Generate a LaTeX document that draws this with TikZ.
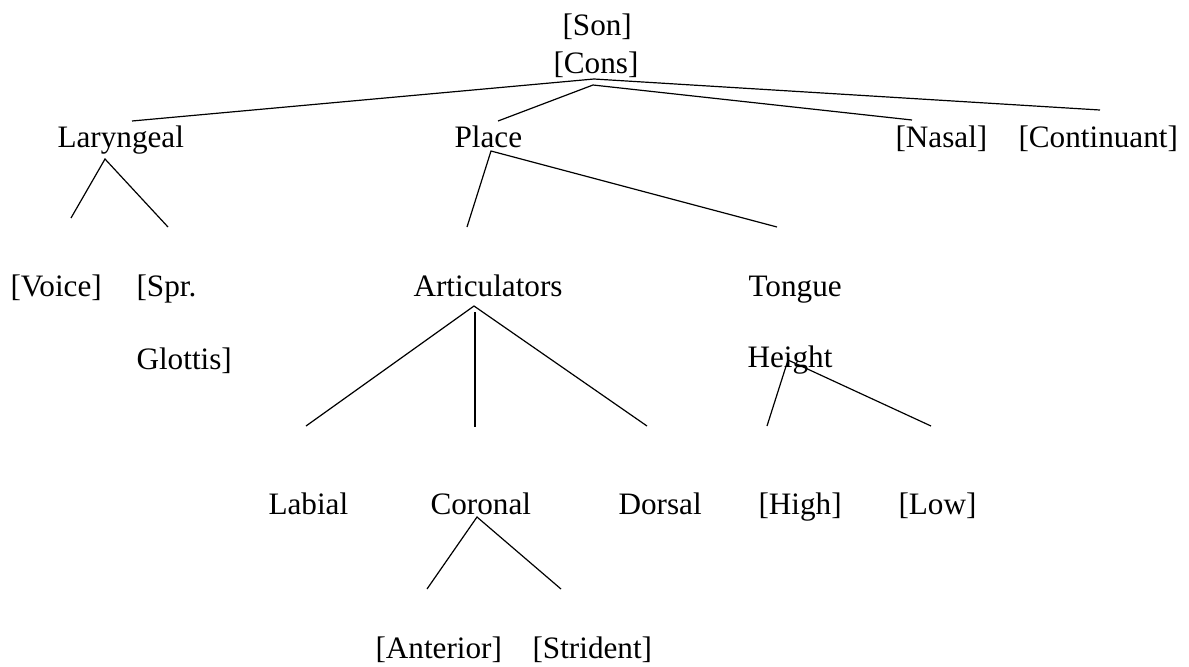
\documentclass[tikz,border=0pt]{standalone}
\usepackage{fontspec}
\setmainfont{Liberation Serif}
\tikzset{
  feat/.style={anchor=base west, inner sep=0pt, font=\fontsize{11.7}{14}\selectfont},
  branch/.style={black, line width=0.45pt}
}
\begin{document}
\begin{tikzpicture}[x=0.375pt, y=-0.375pt]
        \useasboundingbox (0,0) rectangle (1189,666);

        % Root features
        \node[feat] (son) at (562,35) {[Son]};
        \node[feat] (cons) at (553,73) {[Cons]};

        % Second row
        \node[feat] (laryngeal) at (57,147) {Laryngeal};
        \node[feat] (place) at (454,147) {Place};
        \node[feat] (nasal) at (895,147) {[Nasal]};
        \node[feat] (continuant) at (1018,147) {[Continuant]};

        % Third row
        \node[feat] (voice) at (10,296) {[Voice]};
        \node[feat] (spr) at (136,296) {[Spr.};
        \node[feat] (glottis) at (136,369) {Glottis]};
        \node[feat] (articulators) at (413,296) {Articulators};
        \node[feat] (tongue) at (748,296) {Tongue};
        \node[feat] (height) at (747,367) {Height};

        % Fourth row
        \node[feat] (labial) at (268,514) {Labial};
        \node[feat] (coronal) at (430,514) {Coronal};
        \node[feat] (dorsal) at (618,514) {Dorsal};
        \node[feat] (high) at (758,514) {[High]};
        \node[feat] (low) at (898,514) {[Low]};

        % Fifth row
        \node[feat] (anterior) at (375,658) {[Anterior]};
        \node[feat] (strident) at (532,658) {[Strident]};

        % Line ends
        \coordinate (root-a) at (594,79);
        \coordinate (root-b) at (593,85);
        \coordinate (lar-top) at (132,121);
        \coordinate (place-top) at (498,121);
        \coordinate (nasal-top) at (912,120);
        \coordinate (cont-top) at (1100,110);
        \coordinate (lar-bot) at (105,159);
        \coordinate (voice-top) at (71,218);
        \coordinate (spr-top) at (168,227);
        \coordinate (place-bot) at (491,151);
        \coordinate (art-top) at (467,227);
        \coordinate (tongue-top) at (777,227);
        \coordinate (art-bot) at (474,306);
        \coordinate (art-mid) at (475,312);
        \coordinate (lab-top) at (306,426);
        \coordinate (cor-top) at (475,427);
        \coordinate (dor-top) at (647,426);
        \coordinate (height-bot) at (788,360);
        \coordinate (high-top) at (767,426);
        \coordinate (low-top) at (931,426);
        \coordinate (cor-bot) at (477,517);
        \coordinate (ant-top) at (427,589);
        \coordinate (str-top) at (561,589);

        % Draw lines from root
        \draw[branch] (root-a) -- (lar-top);
        \draw[branch] (root-b) -- (place-top);
        \draw[branch] (root-b) -- (nasal-top);
        \draw[branch] (root-a) -- (cont-top);

        % Draw lines below Laryngeal and Place
        \draw[branch] (voice-top) -- (lar-bot) -- (spr-top);
        \draw[branch] (art-top) -- (place-bot) -- (tongue-top);

        % Draw lines below Articulators and Height
        \draw[branch] (lab-top) -- (art-bot) -- (dor-top);
        \draw[branch] (art-mid) -- (cor-top);
        \draw[branch] (high-top) -- (height-bot) -- (low-top);

        % Draw lines below Coronal
        \draw[branch] (ant-top) -- (cor-bot) -- (str-top);
\end{tikzpicture}
\end{document}
